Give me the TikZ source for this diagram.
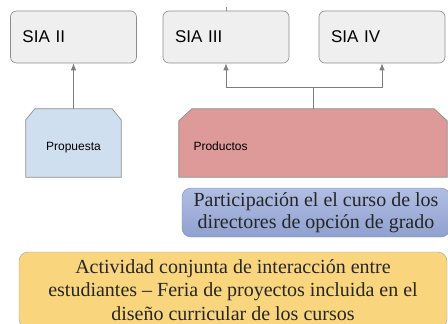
\documentclass[tikz,border=0pt]{standalone}
\usepackage{fontspec}
\setmainfont{Liberation Serif}
\newfontfamily\arialfont{Liberation Sans}
\usetikzlibrary{backgrounds,arrows.meta}
\tikzset{>={Latex[length=7pt,width=5.5pt]}}
\definecolor{boxgray}{HTML}{EFEFEF}
\definecolor{linegray}{HTML}{8C8C8C}
\definecolor{propblue}{HTML}{D0DFF0}
\definecolor{prodred}{HTML}{DE9A98}
\definecolor{partblue}{HTML}{97A9DA}
\definecolor{actyellow}{HTML}{F9D67E}
\tikzset{
  sia/.style={draw=linegray, fill=boxgray, line width=0.6pt, rounded corners=6pt, minimum width=126pt,
    minimum height=52pt, text width=102pt, inner xsep=12pt, align=left, font=\arialfont\fontsize{17}{20}\selectfont},
  snipped/.style={minimum height=68pt, inner sep=0pt, text height=17pt, text depth=3pt,
    font=\arialfont\fontsize{12}{14}\selectfont},
  conn/.style={draw=linegray!90!black, thick, ->},
  note/.style={rounded corners=9pt, align=center, inner sep=0pt, text=black!85}
}
\newcommand{\snipshape}[4]{
  \draw[linegray, line width=0.7pt, fill=#2] (#1.south west) -- ([yshift=-#4]#1.north west) -- ([xshift=#3]#1.north west)
    -- ([xshift=-#3]#1.north east) -- ([yshift=-#4]#1.north east) -- (#1.south east) -- cycle
}

\begin{document}
\begin{tikzpicture}[x=1pt, y=-1pt]
    \clip (0,0) rectangle (448,324);
    \node[sia] (sia2) at (73.5,37) {SIA II};
    \node[sia] (sia3) at (226,37) {SIA III};
    \node[sia] (sia4) at (382,37) {SIA IV};
    \node[snipped, minimum width=95pt] (prop) at (73.5,143) {Propuesta};
    \node[snipped, minimum width=268pt, text width=239pt, align=left] (prod) at (313,143) {Productos};
    \begin{scope}[on background layer]
        \snipshape{prop}{propblue}{9pt}{11pt};
        \snipshape{prod}{prodred}{13pt}{12pt};
    \end{scope}
    \coordinate (tick) at (226,7);
    \coordinate (join) at (313,87);
    \draw[linegray] (tick) -- (sia3.north);
    \draw[conn] (prop.north) -- (sia2.south);
    \draw[linegray!90!black, thick] (prod.north) -- (join);
    \draw[conn] (join) -| (sia3.south);
    \draw[conn] (join) -| (sia4.south);
    \node[note, draw=partblue!80!black, top color=partblue!75!white, bottom color=partblue!95!black,
      minimum width=268pt, minimum height=49pt, font=\fontsize{20}{22}\selectfont]
      (part) at (316,212.5) {Participación el el curso de los\\directores de opción de grado};
    \node[note, draw=linegray!80, fill=actyellow, minimum width=428pt, minimum height=76pt,
      font=\fontsize{20}{23.5}\selectfont] (act) at (233,290)
      {Actividad conjunta de interacción entre\\estudiantes – Feria de proyectos incluida en el\\diseño curricular de los cursos};
\end{tikzpicture}
\end{document}
